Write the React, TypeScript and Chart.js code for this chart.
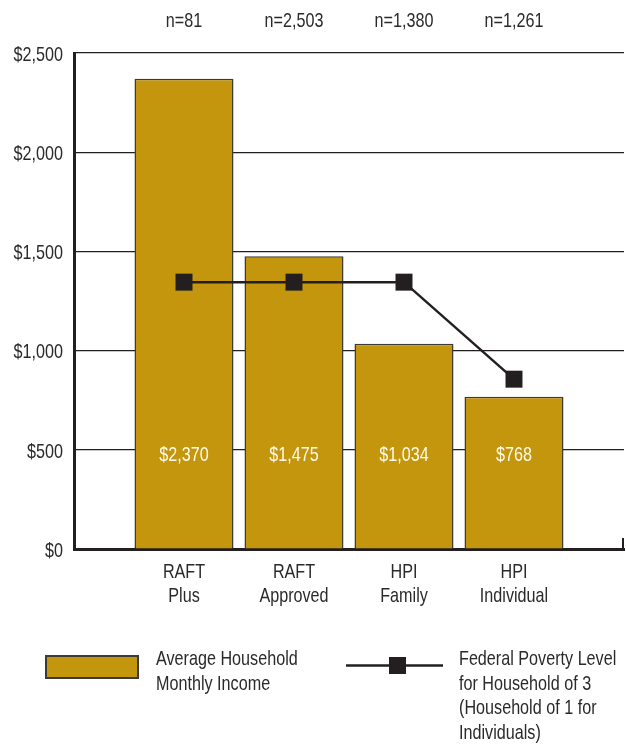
import React, { useEffect, useRef } from "react";
import { Chart, registerables } from "chart.js";

Chart.register(...registerables);

const categories: string[][] = [
  ["RAFT", "Plus"],
  ["RAFT", "Approved"],
  ["HPI", "Family"],
  ["HPI", "Individual"],
];
const sampleSizes = ["n=81", "n=2,503", "n=1,380", "n=1,261"];
const incomeValues = [2370, 1475, 1034, 768];
const povertyValues = [1345, 1345, 1345, 856];
const yTickValues = [0, 500, 1000, 1500, 2000, 2500];
const xTickValues = [-1, 0, 1, 2, 3, 4];
const legendIncome = ["Average Household", "Monthly Income"];
const legendPoverty = [
  "Federal Poverty Level",
  "for Household of 3",
  "(Household of 1 for",
  "Individuals)",
];

const FONT = "'Liberation Sans', Arial, sans-serif";
const SQUEEZE = 0.77;
const BAR_COLOR = "#C4960E";
const BAR_BORDER = "#3d3a35";
const INK = "#231f20";
const TEXT = "#2a2a2a";

const fmt = (v: number) => "$" + v.toLocaleString("en-US");

function narrowText(
  ctx: CanvasRenderingContext2D,
  text: string,
  x: number,
  y: number,
  align: CanvasTextAlign,
  color: string,
  baseline: CanvasTextBaseline = "alphabetic"
) {
  ctx.save();
  ctx.translate(x, y);
  ctx.scale(SQUEEZE, 1);
  ctx.font = `21px ${FONT}`;
  ctx.fillStyle = color;
  ctx.textAlign = align;
  ctx.textBaseline = baseline;
  ctx.fillText(text, 0, 0);
  ctx.restore();
}

const overlayPlugin = {
  id: "overlay",
  afterDraw(chart: any) {
    const ctx: CanvasRenderingContext2D = chart.ctx;
    const xs = chart.scales.x;
    const ys = chart.scales.y;
    const area = chart.chartArea;
    ctx.save();
    // y tick labels
    yTickValues.forEach((v) => {
      narrowText(ctx, fmt(v), area.left - 11, ys.getPixelForValue(v) + 2, "right", TEXT, "middle");
    });
    // x category labels
    categories.forEach((lines, i) => {
      lines.forEach((t, j) => {
        narrowText(ctx, t, xs.getPixelForValue(i), area.bottom + 29 + j * 24, "center", TEXT);
      });
    });
    // sample sizes above plot
    sampleSizes.forEach((s, i) => {
      narrowText(ctx, s, xs.getPixelForValue(i), area.top - 26, "center", TEXT);
    });
    // value labels inside bars
    incomeValues.forEach((v, i) => {
      narrowText(ctx, fmt(v), xs.getPixelForValue(i), ys.getPixelForValue(500) + 11, "center", "#fffbea");
    });
    // right end tick of x axis
    ctx.strokeStyle = INK;
    ctx.lineWidth = 2;
    ctx.beginPath();
    ctx.moveTo(area.right - 1, area.bottom - 11);
    ctx.lineTo(area.right - 1, area.bottom + 1);
    ctx.stroke();

    // legend
    ctx.fillStyle = BAR_COLOR;
    ctx.fillRect(45, 655, 94, 24);
    ctx.strokeStyle = BAR_BORDER;
    ctx.lineWidth = 2;
    ctx.strokeRect(46, 656, 92, 22);
    legendIncome.forEach((t, i) => narrowText(ctx, t, 156, 665 + i * 25, "left", TEXT));

    ctx.strokeStyle = INK;
    ctx.lineWidth = 2.5;
    ctx.beginPath();
    ctx.moveTo(346, 665.5);
    ctx.lineTo(443, 665.5);
    ctx.stroke();
    ctx.fillStyle = INK;
    ctx.fillRect(389, 657, 17, 17);
    legendPoverty.forEach((t, i) => narrowText(ctx, t, 459, 665 + i * 24.7, "left", TEXT));
    ctx.restore();
  },
};

export default function App() {
  const ref = useRef<HTMLCanvasElement>(null);
  useEffect(() => {
    if (!ref.current) return;
    const chart = new Chart(ref.current, {
      type: "bar",
      data: {
        datasets: [
          {
            type: "line",
            label: "Federal Poverty Level",
            data: povertyValues.map((v, i) => ({ x: i, y: v })),
            borderColor: INK,
            borderWidth: 2.5,
            pointStyle: "rect",
            pointRadius: 12,
            pointHoverRadius: 12,
            pointBackgroundColor: INK,
            pointBorderColor: INK,
            pointBorderWidth: 0,
            tension: 0,
            order: 0,
          } as any,
          {
            type: "bar",
            label: "Average Household Monthly Income",
            data: incomeValues.map((v, i) => ({ x: i, y: v })),
            backgroundColor: BAR_COLOR,
            borderColor: BAR_BORDER,
            borderWidth: 1.5,
            barPercentage: 0.9,
            categoryPercentage: 1,
            order: 1,
          } as any,
        ],
      },
      options: {
        responsive: false,
        animation: false,
        devicePixelRatio: 1,
        layout: { autoPadding: false, padding: { top: 53, right: 2, left: 0, bottom: 0 } },
        plugins: {
          legend: { display: false },
          tooltip: { enabled: false },
        },
        scales: {
          x: {
            type: "linear",
            min: -1,
            max: 4,
            offset: false,
            afterFit: (s: any) => {
              s.height = 195;
            },
            afterBuildTicks: (s: any) => {
              s.ticks = xTickValues.map((v) => ({ value: v }));
            },
            grid: { display: false, drawTicks: false },
            border: { display: true, color: INK, width: 3 },
            ticks: { display: false },
          },
          y: {
            min: 0,
            max: 2500,
            afterFit: (s: any) => {
              s.width = 74;
            },
            afterBuildTicks: (s: any) => {
              s.ticks = yTickValues.map((v) => ({ value: v }));
            },
            grid: { color: INK, lineWidth: 1.2, drawTicks: false },
            border: { display: true, color: INK, width: 3 },
            ticks: { display: false },
          },
        },
      } as any,
      plugins: [overlayPlugin],
    });
    return () => chart.destroy();
  }, []);
  return (
    <div style={{ position: "fixed", left: 0, top: 0, width: 626, height: 744, background: "#fff" }}>
      <canvas ref={ref} width={626} height={744} />
    </div>
  );
}
